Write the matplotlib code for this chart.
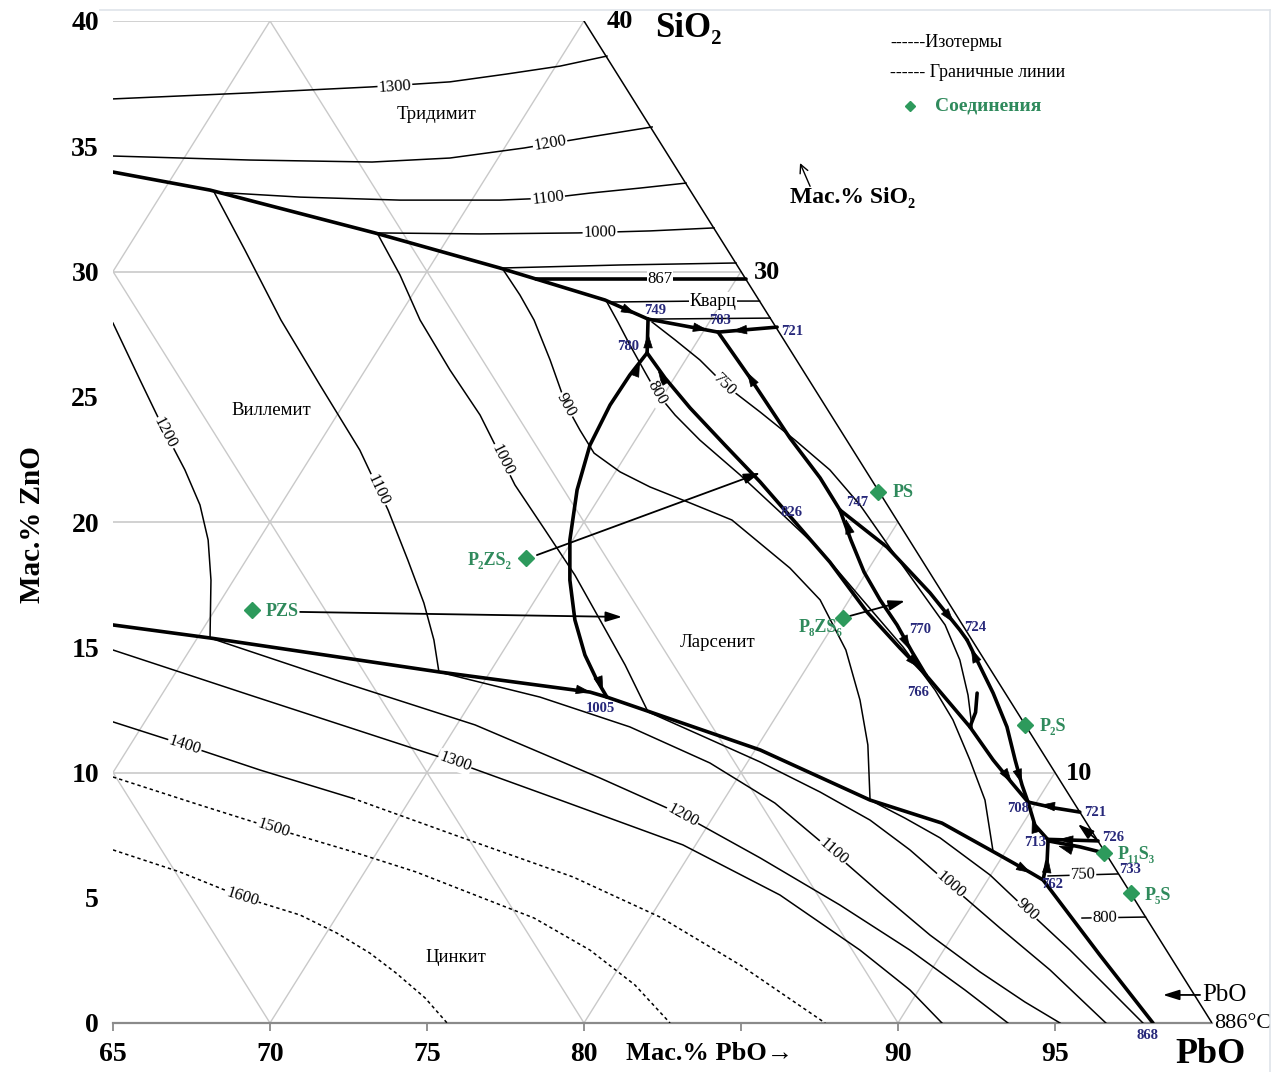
import numpy as np
import matplotlib.pyplot as plt
from matplotlib.lines import Line2D

plt.rcParams['font.family'] = ['Liberation Serif', 'DejaVu Serif']

# chart units: x = PbO + SiO2/2, y = SiO2 (wt.%)
grid_a = [50, 60, 70, 80, 90]   # lines x = c + y/2
grid_b = [70, 80, 90]           # lines x = c - y/2
grid_h = [10, 20, 30, 40]

# ---------------- isotherms (thin) ----------------
iso1300_top_x = [65.0, 69.36, 73.25, 75.73, 77.52, 79.24, 80.73]
iso1300_top_y = [36.89, 37.13, 37.37, 37.57, 37.88, 38.20, 38.60]
iso1200_top_x = [65.0, 69.36, 73.25, 75.73, 78.09, 80.19, 82.17]
iso1200_top_y = [34.61, 34.45, 34.37, 34.53, 34.93, 35.37, 35.77]
iso1200_x = [65.0, 65.86, 66.66, 67.29, 67.77, 68.03, 68.12, 68.09,
             72.39, 76.53, 80.51, 83.15, 85.61, 88.15, 90.38, 92.13, 93.50]
iso1200_y = [27.94, 25.67, 23.59, 22.08, 20.68, 19.28, 17.68, 15.37,
             13.57, 11.90, 9.78, 8.30, 6.59, 4.71, 2.91, 1.32, 0.0]
iso1100_x = [83.25, 81.78, 80.19, 78.85, 77.32, 74.14, 70.96, 68.22,
             69.20, 70.35, 71.59, 72.86, 73.76, 74.39, 74.90, 75.22, 75.38,
             78.60, 81.46, 84.01, 86.08, 87.93, 89.43, 91.02, 92.61, 94.04, 95.16]
iso1100_y = [33.53, 33.33, 33.13, 32.93, 32.85, 32.85, 32.97, 33.17,
             30.86, 28.06, 25.47, 22.87, 20.48, 18.48, 16.77, 15.29, 14.01,
             13.01, 11.82, 10.38, 8.78, 6.83, 5.19, 3.51, 2.04, 0.84, 0.0]
iso1000_x = [84.14, 82.10, 79.81, 76.69, 73.41,
             74.14, 74.78, 75.73, 76.69, 77.17, 77.80, 78.76, 79.71, 80.51, 81.31, 82.04,
             83.69, 85.61, 87.52, 89.11, 90.38, 91.66, 93.25, 94.84, 96.62]
iso1000_y = [31.74, 31.62, 31.54, 31.50, 31.54,
             29.86, 28.06, 26.07, 24.27, 23.07, 21.48, 19.68, 17.88, 16.09, 14.29, 12.42,
             11.50, 10.42, 9.22, 8.10, 6.91, 5.51, 3.79, 2.12, 0.0]
iso900_x = [84.84, 81.15, 77.39, 77.96, 78.41, 78.92, 79.43, 79.87, 80.32, 81.15, 82.10,
            83.38, 84.71, 86.56, 87.52, 88.34, 88.79, 89.04, 89.11,
            90.22, 91.34, 92.93, 94.11, 95.48, 96.75, 97.80]
iso900_y = [30.34, 30.26, 30.14, 29.06, 28.06, 26.47, 24.67, 23.67, 22.75, 22.00, 21.40,
            20.76, 20.08, 18.16, 16.89, 14.89, 12.89, 11.10, 8.90,
            8.18, 7.39, 5.91, 4.51, 2.91, 1.32, 0.0]
iso800_x = [85.59, 83.69, 80.73, 81.08, 81.46, 81.94, 82.32, 82.90, 83.69, 84.97, 86.24,
            87.52, 88.79, 90.16, 91.18, 91.75, 92.29, 92.77, 93.03]
iso800_y = [28.82, 28.82, 28.78, 27.98, 27.07, 25.99, 25.15, 24.27, 23.27, 21.88, 20.40,
            18.88, 17.01, 15.01, 13.29, 12.10, 10.50, 8.90, 6.83]
iso749_x = [82.04, 85.93]
iso749_y = [28.10, 28.14]
iso750_x = [82.17, 82.90, 83.69, 84.49, 85.61, 86.72, 87.83, 88.79, 89.75, 90.70,
            91.50, 91.97, 92.23, 92.36]
iso750_y = [27.98, 27.27, 26.47, 25.47, 24.39, 23.27, 22.08, 20.68, 18.96, 17.29,
            15.89, 14.49, 13.09, 11.78]
iso800_pbo_x = [95.86, 97.88]
iso800_pbo_y = [4.19, 4.23]
iso750_pbo_x = [94.78, 97.00]
iso750_pbo_y = [5.87, 5.95]
iso1300_x = [65.0, 69.36, 75.89, 79.24, 83.15, 86.24, 88.79, 90.38, 91.40]
iso1300_y = [14.89, 13.09, 10.42, 8.90, 7.11, 5.11, 2.91, 1.32, 0.0]
iso1400_x = [65.0, 67.29, 69.68, 72.61]
iso1400_y = [12.02, 11.10, 10.10, 8.98]
iso1400d_x = [72.61, 75.89, 79.65, 82.42, 84.97, 87.68]
iso1400d_y = [8.98, 7.50, 5.83, 4.23, 2.32, 0.0]
iso1500_x = [65.0, 67.77, 70.10, 72.55, 74.65, 76.69, 78.41, 80.19, 81.62, 82.74]
iso1500_y = [9.82, 8.70, 7.78, 6.87, 6.03, 5.03, 4.19, 2.91, 1.52, 0.0]
iso1600_x = [65.0, 67.13, 69.11, 70.96, 72.13, 73.18, 74.01, 74.94, 75.64]
iso1600_y = [6.91, 6.03, 5.03, 4.31, 3.59, 2.79, 2.00, 1.00, 0.0]

# ---------------- boundary lines (thick) ----------------
bd_trid_x = [65.0, 68.09, 73.34, 77.32, 80.67, 82.04]
bd_trid_y = [33.97, 33.25, 31.54, 30.14, 28.86, 28.10]
bd_749_703_x = [82.04, 84.27]; bd_749_703_y = [28.10, 27.58]
bd_721_703_x = [86.15, 84.27]; bd_721_703_y = [27.78, 27.58]
bd_867_x = [78.47, 85.15]; bd_867_y = [29.70, 29.70]
bd_780_749_x = [82.01, 82.04]; bd_780_749_y = [26.75, 28.10]
bd_780_1005_x = [82.01, 81.46, 80.83, 80.19, 79.78, 79.55, 79.55, 79.71, 80.03, 80.41, 80.73]
bd_780_1005_y = [26.75, 25.87, 24.67, 23.07, 21.28, 19.28, 17.68, 16.09, 14.69, 13.69, 13.01]
bd_will_x = [65.0, 68.09, 75.41, 80.19, 80.73]
bd_will_y = [15.89, 15.37, 14.01, 13.21, 13.01]
bd_zinc_x = [80.73, 82.10, 85.61, 89.11, 91.40, 93.22, 94.24, 94.62, 96.43, 98.12]
bd_zinc_y = [13.01, 12.42, 10.90, 8.90, 7.98, 6.71, 5.99, 5.71, 2.71, 0.0]
bd_780_766_x = [82.01, 82.58, 83.38, 84.49, 85.61, 86.72, 87.83, 89.01, 90.06, 90.89]
bd_780_766_y = [26.75, 25.75, 24.55, 23.07, 21.60, 20.00, 18.40, 16.41, 14.97, 13.89]
bd_703_747_x = [84.27, 85.29, 86.56, 87.52, 88.15]
bd_703_747_y = [27.58, 25.75, 23.35, 21.76, 20.48]
bd_747_724_x = [88.15, 89.65, 91.02, 91.97, 92.20]
bd_747_724_y = [20.48, 19.00, 17.17, 15.69, 15.29]
bd_747_766_x = [88.15, 88.50, 88.92, 89.43, 89.97, 90.45, 90.89]
bd_747_766_y = [20.48, 19.28, 18.00, 16.89, 15.89, 14.81, 13.89]
bd_766_708_x = [90.89, 92.29, 93.03, 93.63, 94.14]
bd_766_708_y = [13.89, 11.82, 10.50, 9.58, 8.82]
bd_724_708_x = [92.20, 93.03, 93.47, 93.73, 93.95, 94.14]
bd_724_708_y = [15.29, 13.17, 11.82, 10.50, 9.50, 8.82]
bd_721_708_x = [95.79, 95.0, 94.14]; bd_721_708_y = [8.42, 8.58, 8.82]
bd_708_713_x = [94.14, 94.36, 94.78]; bd_708_713_y = [8.82, 7.90, 7.31]
bd_726_713_x = [96.37, 94.78]; bd_726_713_y = [7.27, 7.33]
bd_p11_713_x = [96.56, 95.8, 94.78]; bd_p11_713_y = [6.79, 7.03, 7.27]
bd_762_713_x = [94.62, 94.75, 94.78]; bd_762_713_y = [5.71, 6.51, 7.31]
bd_hook_x = [92.52, 92.47, 92.29]; bd_hook_y = [13.17, 12.40, 11.82]

# arrow heads on boundaries: tail x, tail y, tip x, tip y
heads = [(81.31, 28.50, 81.66, 28.30), (83.63, 27.74, 83.95, 27.66),
         (85.03, 27.66, 84.71, 27.62), (82.04, 27.11, 82.04, 27.54),
         (81.66, 25.99, 81.78, 26.39), (82.55, 25.63, 82.36, 26.03),
         (80.48, 13.69, 80.61, 13.25), (79.87, 13.29, 80.22, 13.21),
         (85.38, 25.59, 85.19, 25.99), (88.44, 19.68, 88.34, 20.12),
         (90.19, 15.37, 90.38, 14.89), (90.45, 14.49, 90.70, 14.17),
         (91.53, 16.37, 91.78, 15.97), (92.45, 14.61, 92.32, 14.97),
         (93.41, 9.98, 93.63, 9.58), (93.82, 10.02, 93.95, 9.54),
         (94.84, 8.66, 94.52, 8.70), (94.36, 7.78, 94.27, 8.18),
         (95.41, 7.31, 95.10, 7.33), (95.41, 6.95, 95.10, 7.07),
         (94.75, 6.19, 94.78, 6.59), (93.95, 6.19, 94.24, 5.99)]

# join lines with arrows
joins = [(70.96, 16.41, 81.21, 16.21), (78.50, 18.68, 85.61, 21.96),
         (88.47, 16.25, 90.22, 16.85), (96.34, 7.31, 95.73, 7.94),
         (99.62, 1.12, 98.44, 1.12)]
sio2_arrow = (87.20, 33.40, 86.88, 34.33)

# compounds
comp_x = [89.36, 78.15, 69.43, 88.25, 94.04, 96.56, 97.42]
comp_y = [21.20, 18.56, 16.49, 16.17, 11.90, 6.79, 5.19]
comp_names = ['PS', 'P₂ZS₂', 'PZS', 'P₈ZS₆', 'P₂S', 'P₁₁S₃', 'P₅S']
comp_lx = [89.84, 77.01, 70.38, 87.52, 94.52, 97.01, 97.87]
comp_ly = [21.16, 18.48, 16.41, 15.77, 11.82, 6.71, 5.07]
comp_ha = ['left', 'center', 'center', 'center', 'left', 'left', 'left']

# invariant point temperatures
pt_text = ['749', '703', '721', '780', '826', '747', '770', '724', '766', '1005',
           '708', '721', '726', '713', '733', '762', '868']
pt_x = [82.26, 84.33, 86.62, 81.40, 86.62, 88.69, 90.70, 92.45, 90.64, 80.51,
        93.82, 96.27, 96.85, 94.36, 97.39, 94.90, 97.96]
pt_y = [28.46, 28.06, 27.62, 26.99, 20.36, 20.76, 15.69, 15.77, 13.21, 12.57,
        8.58, 8.42, 7.39, 7.19, 6.11, 5.51, -0.48]

# isotherm labels: text, x, y, line
iso_labels = [('1300', 73.98, 37.37, 'i1300t'), ('1200', 78.92, 35.10, 'i1200t'),
              ('1100', 78.85, 32.93, 'i1100'), ('1000', 80.51, 31.54, 'i1000'),
              ('867', 82.42, 29.70, 'b867'), ('1200', 66.66, 23.55, 'i1200'),
              ('1100', 73.44, 21.28, 'i1100'), ('1000', 77.39, 22.48, 'i1000'),
              ('900', 79.43, 24.67, 'i900'), ('800', 82.32, 25.15, 'i800'),
              ('750', 84.49, 25.47, 'i750'), ('1400', 67.29, 11.10, 'i1400'),
              ('1500', 70.10, 7.78, 'i1500'), ('1600', 69.11, 5.03, 'i1600'),
              ('1300', 75.89, 10.42, 'i1300'), ('1200', 83.15, 8.30, 'i1200'),
              ('1100', 87.93, 6.83, 'i1100'), ('1000', 91.66, 5.51, 'i1000'),
              ('900', 94.11, 4.51, 'i900'), ('800', 96.59, 4.20, 'i800p'),
              ('750', 95.89, 5.91, 'i750p')]

phase_names = ['Тридимит', 'Виллемит', 'Ларсенит', 'Цинкит']
phase_x = [75.32, 70.03, 84.24, 75.92]
phase_y = [36.25, 24.47, 15.17, 2.63]

x_ticks = [65, 70, 75, 80, 85, 90, 95]
x_tick_labels = ['65', '70', '75', '80', '', '90', '95']
y_ticks = [0, 5, 10, 15, 20, 25, 30, 35, 40]

# ---------------------------------------------------------------
fig = plt.figure(figsize=(12.82, 10.72), dpi=100)
ax = fig.add_axes([113 / 1282, 49 / 1072, 1099 / 1282, 1002 / 1072])
ax.set_xlim(65, 100)
ax.set_ylim(0, 40)
for s in ax.spines.values():
    s.set_visible(False)

grey = '#c9c9c9'
for c in grid_a:
    y0, y1 = max(0, 2 * (65 - c)), min(40, 100 - c)
    ax.plot([c + y0 / 2, c + y1 / 2], [y0, y1], color=grey, lw=1, zorder=1)
for c in grid_b:
    y1 = min(40, 2 * (c - 65))
    ax.plot([c, c - y1 / 2], [0, y1], color=grey, lw=1, zorder=1)
for h in grid_h:
    ax.plot([65, 100 - h / 2], [h, h], color=grey, lw=1.2, zorder=1)
ax.plot([65, 100], [0, 0], color='#8a8a8a', lw=1.6, zorder=2, clip_on=False)
ax.plot([100, 80], [0, 40], color='k', lw=1.1, zorder=3)

lines = {
    'i1300t': (iso1300_top_x, iso1300_top_y), 'i1200t': (iso1200_top_x, iso1200_top_y),
    'i1200': (iso1200_x, iso1200_y), 'i1100': (iso1100_x, iso1100_y),
    'i1000': (iso1000_x, iso1000_y), 'i900': (iso900_x, iso900_y),
    'i800': (iso800_x, iso800_y), 'i749': (iso749_x, iso749_y),
    'i750': (iso750_x, iso750_y), 'i800p': (iso800_pbo_x, iso800_pbo_y),
    'i750p': (iso750_pbo_x, iso750_pbo_y), 'i1300': (iso1300_x, iso1300_y),
    'i1400': (iso1400_x, iso1400_y), 'b867': (bd_867_x, bd_867_y),
}
for key in ['i1300t', 'i1200t', 'i1200', 'i1100', 'i1000', 'i900', 'i800', 'i749',
            'i750', 'i800p', 'i750p', 'i1300', 'i1400']:
    ax.plot(*lines[key], color='k', lw=1.1, zorder=3)
dashed = {'i1400d': (iso1400d_x, iso1400d_y), 'i1500': (iso1500_x, iso1500_y),
          'i1600': (iso1600_x, iso1600_y)}
lines.update({'i1500': dashed['i1500'], 'i1600': dashed['i1600']})
for xs, ys in dashed.values():
    ax.plot(xs, ys, color='k', lw=1.1, ls=(0, (2.2, 2)), zorder=3)

thick = [(bd_trid_x, bd_trid_y), (bd_749_703_x, bd_749_703_y), (bd_721_703_x, bd_721_703_y),
         (bd_867_x, bd_867_y), (bd_780_749_x, bd_780_749_y), (bd_780_1005_x, bd_780_1005_y),
         (bd_will_x, bd_will_y), (bd_zinc_x, bd_zinc_y), (bd_780_766_x, bd_780_766_y),
         (bd_703_747_x, bd_703_747_y), (bd_747_724_x, bd_747_724_y),
         (bd_747_766_x, bd_747_766_y), (bd_766_708_x, bd_766_708_y),
         (bd_724_708_x, bd_724_708_y), (bd_721_708_x, bd_721_708_y),
         (bd_708_713_x, bd_708_713_y), (bd_726_713_x, bd_726_713_y),
         (bd_p11_713_x, bd_p11_713_y), (bd_762_713_x, bd_762_713_y), (bd_hook_x, bd_hook_y)]
for xs, ys in thick:
    ax.plot(xs, ys, color='k', lw=2.6, solid_capstyle='round', zorder=4)

for x0, y0, x1, y1 in heads:
    ax.annotate('', xy=(x1, y1), xytext=(x0, y0), zorder=6,
                arrowprops=dict(arrowstyle='-|>,head_length=0.7,head_width=0.22',
                                color='k', lw=0.5, shrinkA=0, shrinkB=0, mutation_scale=14))
for x0, y0, x1, y1 in joins:
    ax.annotate('', xy=(x1, y1), xytext=(x0, y0), zorder=5, annotation_clip=False,
                arrowprops=dict(arrowstyle='-|>,head_length=0.7,head_width=0.22',
                                color='k', lw=1.3, shrinkA=0, shrinkB=0, mutation_scale=14))
ax.annotate('', xy=sio2_arrow[2:], xytext=sio2_arrow[:2], zorder=5,
            arrowprops=dict(arrowstyle='->,head_length=0.5,head_width=0.25',
                            color='k', lw=1.0, shrinkA=0, shrinkB=0, mutation_scale=12))

green = '#2d9a5c'
ax.plot(comp_x, comp_y, ls='none', marker='D', ms=8, color=green, zorder=7)
for name, x, y, ha in zip(comp_names, comp_lx, comp_ly, comp_ha):
    ax.text(x, y, name, color='#2f8a5c', fontsize=13, fontweight='bold', ha=ha, va='center', zorder=8)

for t, x, y in zip(pt_text, pt_x, pt_y):
    ax.text(x, y, t, color='#27287a', fontsize=10.5, fontweight='bold', ha='center', va='center', zorder=8)


def seg_angle(xs, ys, x, y):
    pts = ax.transData.transform(np.column_stack([xs, ys]))
    p = ax.transData.transform((x, y))
    mids = (pts[1:] + pts[:-1]) / 2
    i = np.argmin(np.hypot(*(mids - p).T))
    dx, dy = pts[i + 1] - pts[i]
    a = np.degrees(np.arctan2(dy, dx))
    if a > 90:
        a -= 180
    if a < -90:
        a += 180
    return a


for t, x, y, key in iso_labels:
    xs, ys = lines[key]
    ang = seg_angle(xs, ys, x, y)
    ax.text(x, y, t, fontsize=12, ha='center', va='center', rotation=ang,
            rotation_mode='anchor', zorder=6,
            bbox=dict(fc='white', ec='none', pad=0.6))

ax.text(84.11, 28.82, 'Кварц', fontsize=13, ha='center', va='center', zorder=6,
        bbox=dict(fc='white', ec='none', pad=0.6))
for name, x, y in zip(phase_names, phase_x, phase_y):
    ax.text(x, y, name, fontsize=13.5, ha='center', va='center', zorder=6)

# axis texts
ax.set_xticks(x_ticks)
ax.set_xticklabels(x_tick_labels, fontsize=20, fontweight='bold')
ax.set_yticks(y_ticks)
ax.set_yticklabels([str(v) for v in y_ticks], fontsize=20, fontweight='bold')
ax.tick_params(axis='x', length=6, width=1.3, color='#8a8a8a', pad=8)
ax.tick_params(axis='y', length=0, pad=10)

ax.text(84.01, -1.2, 'Мас.% PbO→', fontsize=19, fontweight='bold', ha='center', va='center')
ax.text(99.95, -1.25, 'PbO', fontsize=26, fontweight='bold', ha='center', va='center')
ax.text(100.08, 0.0, '886°C', fontsize=16, ha='left', va='center')
ax.text(99.68, 1.12, 'PbO', fontsize=18, ha='left', va='center')
ax.text(80.73, 40.0, '40', fontsize=19, fontweight='bold', ha='left', va='center')
ax.text(83.31, 39.72, 'SiO₂', fontsize=25, fontweight='bold', ha='center', va='center')
ax.text(85.40, 29.98, '30', fontsize=19, fontweight='bold', ha='left', va='center')
ax.text(95.35, 9.98, '10', fontsize=19, fontweight='bold', ha='left', va='center')
ax.text(88.54, 32.97, 'Мас.% SiO₂', fontsize=17, fontweight='bold', ha='center', va='center')
fig.text(33 / 1282, 1 - 525 / 1072, 'Мас.% ZnO', fontsize=21, fontweight='bold',
         rotation=90, ha='center', va='center')

# legend
ax.text(89.75, 39.16, '------Изотермы', fontsize=13, ha='left', va='center')
ax.text(89.75, 37.96, '------ Граничные линии', fontsize=13, ha='left', va='center')
ax.plot([90.38], [36.61], ls='none', marker='D', ms=5, color=green, clip_on=False)
ax.text(91.18, 36.61, 'Соединения', fontsize=14, fontweight='bold', color='#2f8a5c',
        ha='left', va='center')

# light frame of the picture
frame = '#dfe4ea'
fig.add_artist(Line2D([100 / 1282, 1270 / 1282], [1 - 10 / 1072, 1 - 10 / 1072], color=frame, lw=1.2))
fig.add_artist(Line2D([1270 / 1282, 1270 / 1282], [1 - 10 / 1072, 0], color=frame, lw=1.2))

fig.savefig('out.png', dpi=100)
